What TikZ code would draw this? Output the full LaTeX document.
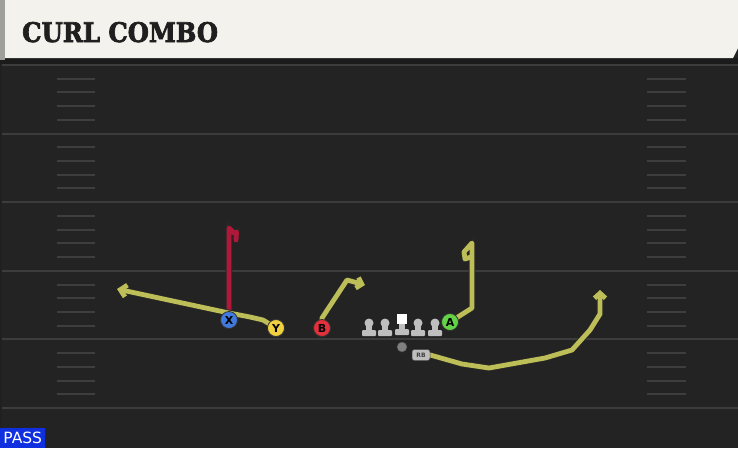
\documentclass[tikz,border=0pt]{standalone}
\usepackage{fontspec}
\usepackage{tikz}
\usetikzlibrary{arrows.meta,shapes,positioning}
\usepackage{xcolor}
\newfontfamily\titlefont{DejaVu Serif Condensed}[BoldFeatures={FakeBold=2.5}]
\newfontfamily\labelfont{DejaVu Sans}
\definecolor{pbfield}{RGB}{35,35,35}
\definecolor{pbband}{RGB}{27,27,27}
\definecolor{pbline}{RGB}{60,60,60}
\definecolor{pbhash}{RGB}{62,62,62}
\definecolor{pbcream}{RGB}{244,242,236}
\definecolor{pbedge}{RGB}{160,160,154}
\definecolor{pbyellow}{RGB}{190,190,88}
\definecolor{pbred}{RGB}{176,24,58}
\definecolor{pbblue}{RGB}{64,122,222}
\definecolor{pbgold}{RGB}{240,208,64}
\definecolor{pbcoral}{RGB}{226,48,60}
\definecolor{pbgreen}{RGB}{98,210,70}
\definecolor{pbgrey}{RGB}{190,190,190}
\definecolor{pbpass}{RGB}{16,48,224}
\pgfdeclarelayer{field}
\pgfdeclarelayer{routes}
\pgfsetlayers{field,routes,main}
\tikzstyle{route} = [line width=4.8pt, color=pbyellow, line join=round, line cap=round, preaction={draw=black!85, line width=6.6pt}]
\tikzstyle{redroute} = [route, color=pbred]
\tikzstyle{player} = [circle, minimum size=17pt, inner sep=0pt, draw=black!80, line width=0.8pt, font=\labelfont\bfseries\fontsize{11}{11}\selectfont]
\tikzstyle{lineman} = [fill=pbgrey]
\tikzstyle{hash} = [line width=2pt, color=pbhash]

\begin{document}
\begin{tikzpicture}[x=1pt, y=-1pt]
\useasboundingbox (0,0) rectangle (738,448);

% Field
\begin{pgfonlayer}{field}
\fill[pbfield] (0,0) rectangle (738,448);
\fill[pbband] (0,58) rectangle (738,64);
\foreach \yl in {65,133.6,202.2,270.8,339.4,408}
  \draw[line width=2pt, pbline] (0,\yl) -- (738,\yl);
\foreach \yl in {65,133.6,202.2,270.8,339.4}
  \foreach \k in {1,2,3,4} {
    \draw[hash] (57,\yl+13.72*\k) -- (95,\yl+13.72*\k);
    \draw[hash] (647,\yl+13.72*\k) -- (686,\yl+13.72*\k);
  }
\draw[line width=1.5pt, black!10!pbfield] (1,64) -- (1,448);
% Header
\fill[pbcream] (5,0) -- (738,0) -- (738,48) -- (733,58) -- (5,58) -- cycle;
\fill[pbedge] (0,0) rectangle (5,60);
\end{pgfonlayer}
\node (title) [anchor=base west, inner sep=0pt, text=black!88, font=\titlefont\bfseries\fontsize{27}{27}\selectfont] at (22,42) {CURL COMBO};

% Receivers
\node (X) [player, fill=pbblue] at (229,320) {X};
\node (Y) [player, fill=pbgold] at (276,328) {Y};
\node (B) [player, fill=pbcoral] at (322,328) {B};
\node (A) [player, fill=pbgreen] at (450,322) {A};

% Line and backfield
\foreach \xl/\nm in {369/lt,385/lg,418/rg,435/rt} {
  \fill[lineman] (\xl,323) circle (4.5pt);
  \fill[lineman] (\xl-3,323) rectangle (\xl+3,333);
  \fill[lineman, rounded corners=1pt] (\xl-7,330) rectangle (\xl+7,336);
  \coordinate (\nm) at (\xl,328);
}
\fill[white] (397,314) rectangle (407,324);
\fill[lineman] (399,324) rectangle (405,332);
\fill[lineman, rounded corners=1pt] (395,329) rectangle (409,335);
\coordinate (C) at (402,325);
\node (QB) [circle, minimum size=10pt, inner sep=0pt, fill=black!50, draw=black!70, line width=0.5pt] at (402,347) {};
\node (RB) [rectangle, rounded corners=2.5pt, minimum width=18pt, minimum height=11pt, inner sep=0pt, fill=pbgrey, draw=black!70, line width=0.5pt, font=\labelfont\bfseries\fontsize{6}{6}\selectfont, text=black!75] at (421,355) {RB};

% Routes
\begin{pgfonlayer}{routes}
\draw[redroute] (X.center) -- (229,228) -- (234,233) -- (236.5,232) -- (236,240);
\draw[route, -{Straight Barb[length=6pt, width=12pt]}] (Y.center) -- (263,320) -- (250,317) -- (229,313) -- (117,289);
\draw[route, -{Straight Barb[length=5pt, width=11pt]}] (B.center) -- (322,318) -- (347,280) -- (365,285);
\draw[route] (A.center) -- (472,308) -- (472,243) -- (464,252) -- (465,259) -- (471,257);
\draw[route, -{Straight Barb[length=5pt, width=11pt]}] (RB.east) -- (462,364) -- (489,368) -- (545,358) -- (572,350) -- (590,330) -- (600,314) -- (600,290);
\end{pgfonlayer}

% Play type
\node (pass) [anchor=south west, fill=pbpass, text=white, minimum width=45pt, minimum height=20pt, inner sep=0pt, font=\labelfont\fontsize{15.5}{15.5}\selectfont] at (0,448) {PASS};
\end{tikzpicture}
\end{document}
